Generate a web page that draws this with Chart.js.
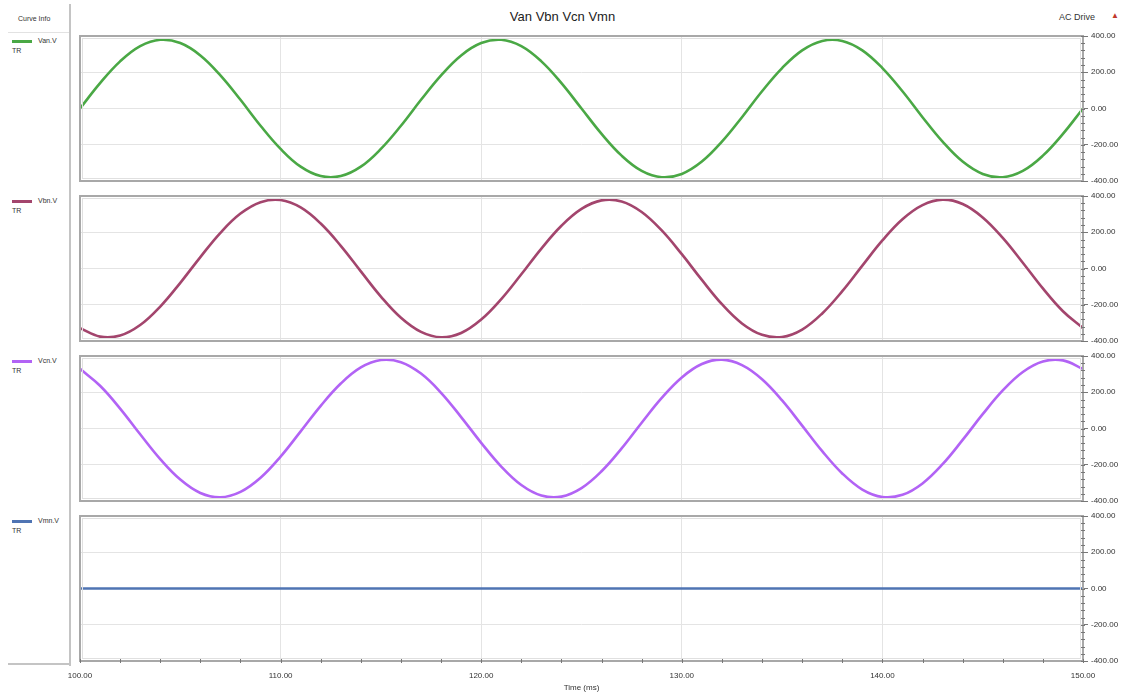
<!DOCTYPE html>
<html>
<head>
<meta charset="utf-8">
<script src="https://cdn.jsdelivr.net/npm/chart.js@4/dist/chart.umd.min.js"></script>
<style>
  body { margin: 0; background: #fff; font-family: "Liberation Sans", Arial, sans-serif; }
  #page { position: relative; width: 1125px; height: 693px; overflow: hidden; }
  canvas { position: absolute; left: 0; }
  .txt { position: absolute; white-space: nowrap; color: #333; }
  .sep { position: absolute; background: #c4c4c4; }
  .swatch { position: absolute; height: 3px; width: 20px; }
</style>
</head>
<body>
<div id="page">
  <div class="sep" style="left:69px; top:4px; width:2px; height:662px;"></div>
  <div class="sep" style="left:8px; top:32px; width:61px; height:1px; background:#e2e2e2;"></div>
  <div class="sep" style="left:8px; top:663px; width:62px; height:2px;"></div>
  <div class="txt" style="left:18px; top:15px; font-size:7px;">Curve Info</div>
  <div class="txt" style="left:0; width:1125px; top:9px; text-align:center; font-size:13px; color:#222;">Van Vbn Vcn Vmn</div>
  <div class="txt" style="left:1059px; top:12px; font-size:9px;">AC Drive</div>
  <div class="txt" style="left:1111px; top:11px; font-size:8px; color:#c0392b;">&#9650;</div>
  <div id="legend"></div>
  <canvas id="c0"></canvas>
  <canvas id="c1"></canvas>
  <canvas id="c2"></canvas>
  <canvas id="c3"></canvas>
</div>
<script>
// sample times (ms)
const times = [100, 101, 102, 103, 104, 105, 106, 107, 108, 109,
  110, 111, 112, 113, 114, 115, 116, 117, 118, 119,
  120, 121, 122, 123, 124, 125, 126, 127, 128, 129,
  130, 131, 132, 133, 134, 135, 136, 137, 138, 139,
  140, 141, 142, 143, 144, 145, 146, 147, 148, 149, 150];

// phase voltages (V)
const van = [0, 140, 260, 344, 379, 361, 293, 183, 48, -95,
  -223, -321, -373, -373, -321, -223, -95, 48, 183, 293,
  361, 379, 344, 260, 140, 0, -140, -260, -344, -379,
  -361, -293, -183, -48, 95, 223, 321, 373, 373, 321,
  223, 95, -48, -183, -293, -361, -379, -344, -260, -140, 0];

const vbn = [-329, -376, -370, -312, -210, -79, 63, 197, 303, 366,
  378, 337, 248, 125, -16, -155, -272, -350, -380, -356,
  -282, -169, -32, 110, 236, 329, 376, 370, 312, 210,
  79, -63, -197, -303, -366, -378, -337, -248, -125, 16,
  155, 272, 350, 380, 356, 282, 169, 32, -110, -236, -329];

const vcn = [329, 236, 110, -32, -169, -282, -356, -380, -350, -272,
  -155, -16, 125, 248, 337, 378, 366, 303, 197, 63,
  -79, -210, -312, -370, -376, -329, -236, -110, 32, 169,
  282, 356, 380, 350, 272, 155, 16, -125, -248, -337,
  -378, -366, -303, -197, -63, 79, 210, 312, 370, 376, 329];

const vmn = [0, 0, 0, 0, 0, 0, 0, 0, 0, 0,
  0, 0, 0, 0, 0, 0, 0, 0, 0, 0,
  0, 0, 0, 0, 0, 0, 0, 0, 0, 0,
  0, 0, 0, 0, 0, 0, 0, 0, 0, 0,
  0, 0, 0, 0, 0, 0, 0, 0, 0, 0, 0];

const curveNames = ["Van.V", "Vbn.V", "Vcn.V", "Vmn.V"];
const curveColors = ["#4aa845", "#a3456d", "#b263f5", "#4f74b3"];
const curveData = [van, vbn, vcn, vmn];

const xTicks = [100, 110, 120, 130, 140, 150];
const yTicks = [-400, -200, 0, 200, 400];

// plot area layout
const plotLeft = 80;
const plotRight = 1083;
const panelTops = [36, 196, 356, 516];
const panelHeight = 145;

// frame + minor tick marks around each plot area
const framePlugin = {
  id: "frame",
  afterDraw(chart) {
    const { ctx, chartArea: a, scales } = chart;
    ctx.save();
    ctx.strokeStyle = "#a8a8a8";
    ctx.lineWidth = 2;
    ctx.strokeRect(a.left, a.top, a.right - a.left, a.bottom - a.top);
    ctx.strokeStyle = "#e0e0e0";
    ctx.lineWidth = 1;
    ctx.strokeRect(a.left + 2.5, a.top + 2.5, a.right - a.left - 5, a.bottom - a.top - 5);

    ctx.strokeStyle = "#777";
    ctx.lineWidth = 1;
    const y = scales.y;
    for (let v = -400; v <= 400; v += 40) {
      const py = Math.round(y.getPixelForValue(v)) + 0.5;
      ctx.beginPath();
      ctx.moveTo(a.right - 2, py);
      ctx.lineTo(a.right + 2, py);
      ctx.stroke();
    }
    if (chart.options.showMinorX) {
      const x = scales.x;
      for (let t = 100; t <= 150; t += 2) {
        const px = Math.round(x.getPixelForValue(t)) + 0.5;
        ctx.beginPath();
        ctx.moveTo(px, a.bottom - 2);
        ctx.lineTo(px, a.bottom + 2);
        ctx.stroke();
      }
    }
    ctx.restore();
  },
};

function makePanel(i) {
  const isLast = i === 3;
  const canvas = document.getElementById("c" + i);
  const top = panelTops[i] - 8;
  const height = isLast ? 693 - top : panelHeight + 16;
  canvas.width = 1125;
  canvas.height = height;
  canvas.style.top = top + "px";

  const points = times.map((t, k) => ({ x: t, y: curveData[i][k] }));

  new Chart(canvas, {
    type: "line",
    data: {
      datasets: [{
        data: points,
        borderColor: curveColors[i],
        borderWidth: 2.6,
        pointRadius: 0,
        tension: 0.4,
        fill: false,
      }],
    },
    options: {
      responsive: false,
      animation: false,
      devicePixelRatio: 1,
      showMinorX: isLast,
      layout: { padding: { left: plotLeft, top: 8, bottom: isLast ? 0 : 8, right: 0 } },
      plugins: { legend: { display: false }, tooltip: { enabled: false } },
      scales: {
        x: {
          type: "linear",
          min: 100,
          max: 150,
          afterBuildTicks: (s) => { s.ticks = xTicks.map((v) => ({ value: v })); },
          // bottom panel keeps a fixed strip for labels, the others none
          afterFit: (s) => { s.height = isLast ? 693 - (panelTops[3] + panelHeight) : 0; },
          grid: { color: "#e4e4e4", drawTicks: false },
          border: { display: false },
          ticks: {
            display: isLast,
            color: "#333",
            font: { size: 8, family: "Liberation Sans" },
            padding: 10,
            maxRotation: 0,
            callback: (v) => v.toFixed(2),
          },
          title: {
            display: isLast,
            text: "Time (ms)",
            color: "#333",
            font: { size: 8, family: "Liberation Sans" },
            padding: { top: 2, bottom: 0 },
          },
        },
        y: {
          position: "right",
          min: -400,
          max: 400,
          afterBuildTicks: (s) => { s.ticks = yTicks.map((v) => ({ value: v })); },
          afterFit: (s) => { s.width = 1125 - plotRight; },
          grid: { color: "#e4e4e4", tickLength: 5, tickColor: "#777" },
          border: { display: false },
          ticks: {
            color: "#333",
            font: { size: 8, family: "Liberation Sans" },
            padding: 3,
            callback: (v) => v.toFixed(2),
          },
        },
      },
    },
    plugins: [framePlugin],
  });
}

// legend column on the left
const legend = document.getElementById("legend");
curveNames.forEach((name, i) => {
  const y = panelTops[i] + 5;
  legend.insertAdjacentHTML("beforeend",
    `<div class="swatch" style="left:12px; top:${y - 1}px; background:${curveColors[i]};"></div>` +
    `<div class="txt" style="left:38px; top:${y - 4}px; font-size:7px;">${name}</div>` +
    `<div class="txt" style="left:12px; top:${y + 6}px; font-size:7px;">TR</div>`);
});

for (let i = 0; i < 4; i++) makePanel(i);
</script>
</body>
</html>
